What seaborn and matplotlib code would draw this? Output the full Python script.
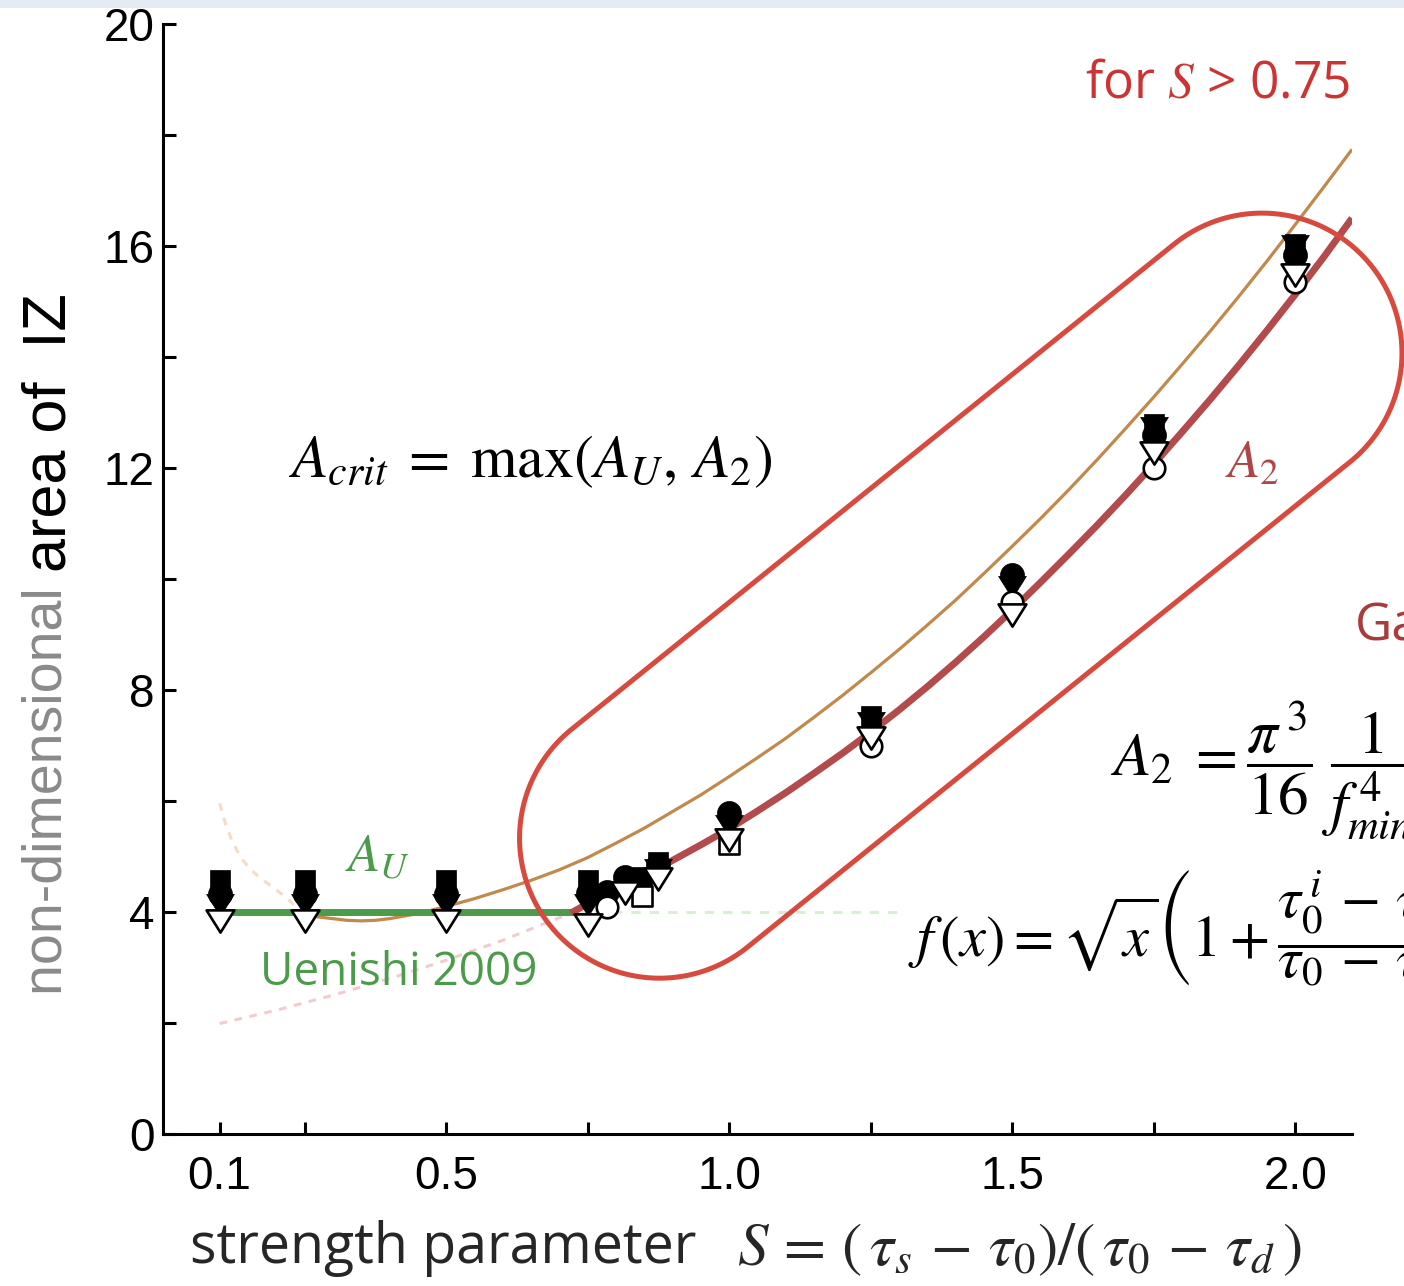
import numpy as np
import matplotlib
matplotlib.use("Agg")
import matplotlib.pyplot as plt
import seaborn as sns
from matplotlib.patches import Polygon, Rectangle
from matplotlib.path import Path

# ---------------- data ----------------
S_ticks = [0.1, 0.25, 0.5, 0.75, 1.0, 1.25, 1.5, 1.75, 2.0]
S_tick_labels = ["0.1", "", "0.5", "", "1.0", "", "1.5", "", "2.0"]
A_ticks = [0, 4, 8, 12, 16, 20]
A_tick_labels = ["0", "4", "8", "12", "16", "20"]
A_minor = [2, 6, 10, 14, 18]

# simulated nucleation areas (filled / open symbols = different runs)
sq_fill_S = [0.1, 0.25, 0.5, 0.75, 0.846, 0.875, 1.25, 1.75, 2.0]
sq_fill_A = [4.57, 4.57, 4.57, 4.57, 4.63, 4.9, 7.53, 12.8, 16.04]
ci_fill_S = [0.1, 0.25, 0.5, 0.75, 0.785, 0.816, 0.875, 1.0, 1.5, 1.75, 2.0]
ci_fill_A = [4.33, 4.33, 4.33, 4.35, 4.36, 4.63, 4.85, 5.78, 10.07, 12.6, 15.84]
tri_fill_S = [0.1, 0.25, 0.5, 0.75, 0.875, 1.0, 1.25, 1.5, 1.75, 2.0]
tri_fill_A = [4.12, 4.12, 4.12, 4.12, 4.75, 5.55, 7.4, 9.85, 12.72, 16.0]
tri_open_S = [0.1, 0.25, 0.5, 0.75, 0.816, 0.875, 1.0, 1.25, 1.5, 1.75, 2.0]
tri_open_A = [3.84, 3.84, 3.84, 3.77, 4.34, 4.6, 5.3, 7.13, 9.35, 12.27, 15.48]
ci_open_S = [0.785, 1.25, 1.5, 1.75, 2.0]
ci_open_A = [4.09, 7.0, 9.58, 12.0, 15.35]
sq_open_S = [0.846, 1.0]
sq_open_A = [4.29, 5.22]

# Uenishi (2009) critical area A_U
AU_S = [0.1, 0.73]
AU_A = [4.0, 4.0]
AU_ext_S = [0.73, 1.3]
AU_ext_A = [4.0, 4.0]

# A_2 for S > 0.75 and its continuation below
A2_S = [0.72, 0.75, 0.8, 0.85, 0.9, 0.95, 1.0, 1.05, 1.1, 1.15, 1.2, 1.25, 1.3,
        1.35, 1.4, 1.45, 1.5, 1.55, 1.6, 1.65, 1.7, 1.75, 1.8, 1.85, 1.9,
        1.95, 2.0, 2.05, 2.1]
A2_A = [3.98, 4.15, 4.42, 4.66, 4.93, 5.21, 5.5, 5.82, 6.15, 6.5, 6.86, 7.24,
        7.64, 8.06, 8.5, 8.96, 9.44, 9.94, 10.45, 10.97, 11.51, 12.07, 12.65,
        13.24, 13.85, 14.48, 15.13, 15.8, 16.5]
A2_low_S = [0.1, 0.2, 0.3, 0.4, 0.5, 0.6, 0.72]
A2_low_A = [1.99, 2.23, 2.5, 2.8, 3.13, 3.49, 3.98]

# companion estimate (tan curve)
T_S = [0.245, 0.275, 0.3, 0.325, 0.35, 0.375, 0.4, 0.45, 0.5, 0.55, 0.6, 0.65,
       0.7, 0.75, 0.8, 0.85, 0.9, 0.95, 1.0, 1.05, 1.1, 1.15, 1.2, 1.25, 1.3,
       1.35, 1.4, 1.45, 1.5, 1.55, 1.6, 1.65, 1.7, 1.75, 1.8, 1.85, 1.9, 1.95,
       2.0, 2.05, 2.1]
T_A = [3.97, 3.91, 3.88, 3.85, 3.84, 3.85, 3.88, 3.97, 4.1, 4.24, 4.4, 4.57,
       4.76, 4.98, 5.24, 5.51, 5.81, 6.11, 6.44, 6.78, 7.13, 7.51, 7.9, 8.31,
       8.73, 9.17, 9.62, 10.1, 10.59, 11.09, 11.61, 12.15, 12.71, 13.28, 13.87,
       14.47, 15.09, 15.73, 16.39, 17.06, 17.74]
T_low_S = [0.1, 0.11, 0.12, 0.13, 0.14, 0.15, 0.165, 0.18, 0.195, 0.21, 0.225, 0.245]
T_low_A = [5.96, 5.6, 5.33, 5.12, 4.95, 4.82, 4.67, 4.55, 4.44, 4.32, 4.19, 3.97]

# ---------------- style ----------------
sns.set_theme(style="ticks")
plt.rcParams["font.family"] = ["Liberation Sans", "DejaVu Sans"]
plt.rcParams["mathtext.fontset"] = "stix"

W, H = 1404, 1286
fig = plt.figure(figsize=(W / 100, H / 100), dpi=100, facecolor="white")


def px(x, y):
    return x / W, 1 - y / H


ax = fig.add_axes([163 / W, 1 - 1134 / H, (1352 - 163) / W, (1134 - 24) / H])
ax.set_facecolor("white")
ax.set_xlim(0, 2.1)
ax.set_ylim(0, 20)

# top band
fig.add_artist(Rectangle((0, 1 - 8 / H), 1, 8 / H, transform=fig.transFigure,
                         color="#e4ebf4", lw=0, zorder=0))

# ---------------- curves ----------------
sns.lineplot(x=T_low_S, y=T_low_A, ax=ax, color="#f4dcc6", lw=2.2, sort=False, zorder=2)
ax.lines[-1].set_linestyle((0, (2.5, 2.5)))
sns.lineplot(x=A2_low_S, y=A2_low_A, ax=ax, color="#f0cdcd", lw=2.2, sort=False, zorder=2)
ax.lines[-1].set_linestyle((0, (2.5, 2.5)))
sns.lineplot(x=AU_ext_S, y=AU_ext_A, ax=ax, color="#d8efd3", lw=2.2, sort=False, zorder=2)
ax.lines[-1].set_linestyle((0, (3, 3)))
sns.lineplot(x=T_S, y=T_A, ax=ax, color="#c1894b", lw=2.3, sort=False, zorder=3)
sns.lineplot(x=AU_S, y=AU_A, ax=ax, color="#4b9b4a", lw=5, sort=False, zorder=3)
sns.lineplot(x=A2_S, y=A2_A, ax=ax, color="#b34a4b", lw=5, sort=False, zorder=3)
for ln in ax.lines:
    ln.set_solid_capstyle("butt")
    ln.set_solid_joinstyle("round")

# ---------------- markers ----------------
tri = Path([(-1, 0.8), (1, 0.8), (0, -0.8), (-1, 0.8)],
           [Path.MOVETO, Path.LINETO, Path.LINETO, Path.CLOSEPOLY])
kw_fill = dict(color="black", edgecolor="black", linewidth=0.5, ax=ax, zorder=5)
kw_open = dict(color="white", edgecolor="black", linewidth=1.9, ax=ax, zorder=6)
sns.scatterplot(x=sq_fill_S, y=sq_fill_A, marker="s", s=190, **kw_fill)
sns.scatterplot(x=ci_fill_S, y=ci_fill_A, marker="o", s=300, **kw_fill)
sns.scatterplot(x=tri_fill_S, y=tri_fill_A, marker=tri, s=400, **kw_fill)
sns.scatterplot(x=sq_open_S, y=sq_open_A, marker="s", s=190, **kw_open)
sns.scatterplot(x=ci_open_S, y=ci_open_A, marker="o", s=240, **kw_open)
sns.scatterplot(x=tri_open_S, y=tri_open_A, marker=tri, s=400, **kw_open)

# ---------------- axes ----------------
sns.despine(ax=ax)
for sp in ("left", "bottom"):
    ax.spines[sp].set_linewidth(2.2)
    ax.spines[sp].set_color("black")
ax.set_xticks(S_ticks)
ax.set_xticklabels(S_tick_labels)
ax.set_yticks(A_ticks)
ax.set_yticklabels(A_tick_labels)
ax.set_yticks(A_minor, minor=True)
ax.tick_params(axis="both", which="both", direction="in", length=9, width=2.2,
               color="black", labelsize=33, labelcolor="black")
ax.tick_params(axis="x", pad=15)
ax.tick_params(axis="y", pad=6)
ax.set_xlabel("")
ax.set_ylabel("")

# ---------------- highlight outline ----------------
c1 = ax.transData.transform((0.877, 5.33))
c2 = ax.transData.transform((1.941, 14.07))
r = 140
d = c2 - c1
th = np.arctan2(d[1], d[0])
a2 = np.linspace(th - np.pi / 2, th + np.pi / 2, 120)
a1 = np.linspace(th + np.pi / 2, th + 3 * np.pi / 2, 120)
pts = np.vstack([c2 + r * np.c_[np.cos(a2), np.sin(a2)],
                 c1 + r * np.c_[np.cos(a1), np.sin(a1)]])
pts = fig.transFigure.inverted().transform(pts)
fig.add_artist(Polygon(pts, closed=True, fill=False, ec="#d8493e", lw=3.6,
                       transform=fig.transFigure, zorder=8))

# ---------------- labels ----------------
sans = ["Open Sans", "DejaVu Sans"]
fig.text(*px(190, 1263), "strength parameter", family=sans, fontsize=40,
         ha="left", va="baseline")
fig.text(*px(737, 1265),
         r"$S\, =\, \left(\,\tau_s\, -\, \tau_0\right)/\left(\,\tau_0\, -\, \tau_d\,\right)$",
         fontsize=44, ha="left", va="baseline")

gray_txt = fig.text(*px(22, 995), "non-dimensional ", color="#8a8a8a",
                    fontsize=40, rotation=90, ha="left", va="bottom")
ax.annotate("area of  IZ", xy=(0, 1), xycoords=gray_txt, color="black",
            fontsize=44, rotation=90, ha="left", va="bottom",
            annotation_clip=False)

fig.text(*px(1085, 98), r"for $S$ > 0.75", family=sans, color="#cc3333",
         fontsize=37, ha="left", va="baseline")
fig.text(*px(288, 477), r"$A_{crit}\; =\; \max(A_U,\, A_2)$", color="black",
         fontsize=43, ha="left", va="baseline")
fig.text(*px(345, 871), r"$A_U$", color="#4b9b4a", fontsize=38,
         ha="left", va="baseline")
fig.text(*px(260, 985), "Uenishi 2009", family=sans, color="#4b9b4a",
         fontsize=33, ha="left", va="baseline")
fig.text(*px(1225, 478), r"$A_2$", color="#b04545", fontsize=38,
         ha="left", va="baseline")
fig.text(*px(1355, 640), "Ga", family=sans, color="#a83c3c", fontsize=37,
         ha="left", va="baseline")
fig.text(*px(1110, 775),
         r"$A_2\; = \dfrac{\pi^{\,3}}{16}\;\dfrac{1}{f_{min}^{\,4}}$",
         color="black", fontsize=44, ha="left", va="baseline")
fig.text(*px(908, 957),
         r"$f\,(x) = \sqrt{x}\left(1 + \dfrac{\tau_0^{\,i}\, -\, \tau_0}{\tau_0\, -\, \tau_d}\right)$",
         color="black", fontsize=42, ha="left", va="baseline")

fig.savefig("out.png", dpi=100, facecolor="white")
